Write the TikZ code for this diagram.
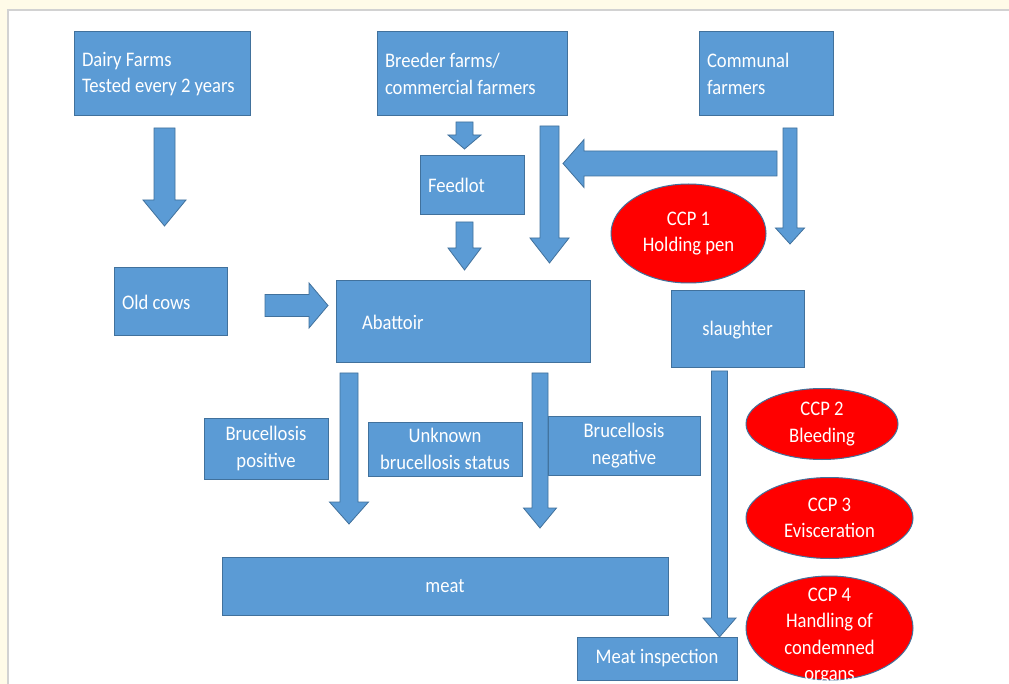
\documentclass[tikz,border=0pt]{standalone}
\usepackage{fontspec}
\newfontfamily\carlitofont[FakeStretch=0.9]{Carlito}
\usetikzlibrary{shapes.geometric}
\definecolor{boxblue}{HTML}{5B9BD5}
\definecolor{bord}{HTML}{41719C}
\definecolor{cream}{HTML}{FFFBE8}
\definecolor{ccpred}{HTML}{FF0000}
\definecolor{frameline}{HTML}{D2D2D2}
% vertical block arrow: x-centre, y-top, y-head-base, y-tip, shaft width, head width
\newcommand\blkdown[6]{\draw[arr] ({#1-#5/2},#2) -- ({#1+#5/2},#2) -- ({#1+#5/2},#3) -- ({#1+#6/2},#3) -- (#1,#4) -- ({#1-#6/2},#3) -- ({#1-#5/2},#3) -- cycle;}
% horizontal block arrow: x-start, x-head-base, x-tip, y-centre, shaft width, head width
\newcommand\blkside[6]{\draw[arr] (#1,{#4-#5/2}) -- (#2,{#4-#5/2}) -- (#2,{#4-#6/2}) -- (#3,#4) -- (#2,{#4+#6/2}) -- (#2,{#4+#5/2}) -- (#1,{#4+#5/2}) -- cycle;}
\begin{document}
\begin{tikzpicture}[x=1pt,y=-1pt,
  txt/.style={font=\carlitofont\fontsize{20.7}{26.5}\selectfont, text=white},
  bx/.style={txt, draw=bord, fill=boxblue, line width=1pt, inner sep=0pt, rectangle},
  lbx/.style={bx, align=flush left, inner xsep=8pt},
  cbx/.style={bx, align=center},
  ccp/.style={txt, ellipse, draw=bord, fill=ccpred, line width=1pt, inner sep=0pt, align=center},
  arr/.style={draw=bord, fill=boxblue, line width=0.8pt, line join=miter}]
\useasboundingbox (0,0) rectangle (1009,684);
\fill[cream] (0,0) rectangle (1009,684);
\fill[white] (8,10) rectangle (1009,684);
\draw[frameline, line width=1.5pt] (8,684) -- (8,10) -- (1009,10);

% boxes
\node[lbx, minimum width=176, minimum height=84, text width=160] (dairy) at (162,74) {Dairy Farms\\Tested every 2 years};
\node[lbx, minimum width=190, minimum height=84, text width=174] (breeder) at (472,74) {Breeder farms/\\commercial farmers};
\node[lbx, minimum width=134, minimum height=84, text width=118] (communal) at (766,74) {Communal\\farmers};
\node[lbx, minimum width=104, minimum height=59, text width=88] (feedlot) at (472,185.5) {Feedlot};
\node[lbx, minimum width=113, minimum height=68, text width=97] (oldcows) at (170.5,302) {Old cows};
\node[bx, align=flush left, inner xsep=26pt, minimum width=254, minimum height=82, text width=202] (abattoir) at (463,322) {Abattoir};
\node[cbx, minimum width=133, minimum height=77, text depth=2pt] (slaughter) at (737.5,329.5) {slaughter};
\node[cbx, minimum width=124, minimum height=61] (bpos) at (266,448.5) {Brucellosis\\positive};
\node[cbx, minimum width=154, minimum height=54] (unknown) at (445,449) {Unknown\\brucellosis status};
\node[cbx, minimum width=152, minimum height=59] (bneg) at (624,445.5) {Brucellosis\\negative};
\node[cbx, minimum width=446, minimum height=58] (meat) at (445,586) {meat};
\node[cbx, minimum width=160, minimum height=43] (inspection) at (657,658.5) {Meat inspection};

% CCP ellipses
\node[ccp, minimum width=155, minimum height=99] (ccp1) at (688.5,233.5) {CCP 1\\Holding pen};
\node[ccp, minimum width=152, minimum height=71] (ccp2) at (822,424) {CCP 2\\Bleeding};
\node[ccp, minimum width=167, minimum height=81] (ccp3) at (829.5,518) {CCP 3\\Evisceration};
\node[ccp, minimum width=167, minimum height=104] (ccp4) at (829.5,628) {};
\node[txt, align=center, inner sep=0pt] (ccp4t) at (829.5,636) {CCP 4\\Handling of\\condemned\\organs};

% block arrows
\blkdown{164.5}{128}{200}{226}{21}{43}
\blkdown{464.5}{122}{135}{149}{17}{33}
\blkdown{464.5}{222}{248}{270}{17}{33}
\blkdown{549.5}{126}{238}{263}{19}{39}
\blkdown{790}{128}{228}{244}{14}{29}
\blkside{777}{584}{563}{163.5}{25}{48}
\blkside{265}{309}{328}{305.5}{22}{45}
\blkdown{349}{373}{502}{524}{18}{39}
\blkdown{540}{373}{508}{528}{16}{33}
\blkdown{719.5}{371}{618}{637}{16}{33}
\end{tikzpicture}
\end{document}
